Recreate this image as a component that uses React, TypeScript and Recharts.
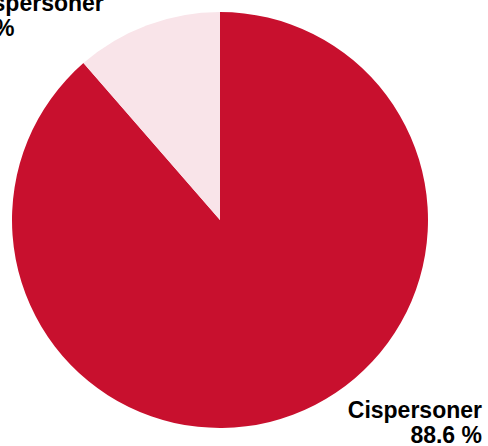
import React from 'react';
import { PieChart, Pie, Cell } from 'recharts';

const groups = ['Cispersoner', 'Transpersoner'];
const shares = [88.6, 11.4];
const colors = ['#C8102E', '#F9E4E9'];

const data = groups.map((name, i) => ({ name, value: shares[i] }));

const FONT = '"Liberation Sans", Arial, Helvetica, sans-serif';

function renderLabel(props: any) {
  const { cx, cy, midAngle, outerRadius, name, value } = props;
  const rad = (Math.PI / 180) * midAngle;
  const right = Math.cos(rad) > 0;
  const text = `${value.toFixed(1)} %`;
  if (right) {
    const x = cx + outerRadius + 54;
    const y = cy + outerRadius - 10;
    return (
      <text x={x} y={y} textAnchor="end" fontFamily={FONT} fontWeight="bold" fontSize={23} fill="#000">
        <tspan x={x} dy={0}>{name}</tspan>
        <tspan x={x} dy={25}>{text}</tspan>
      </text>
    );
  }
  const x = cx - outerRadius - 68;
  const y = cy - outerRadius - 1;
  return (
    <text x={x} y={y} textAnchor="start" fontFamily={FONT} fontWeight="bold" fontSize={23} fill="#000">
      <tspan x={x} dy={0}>{name}</tspan>
      <tspan x={x} dy={25}>{text}</tspan>
    </text>
  );
}

export default function App() {
  return (
    <div style={{ position: 'absolute', left: 0, top: 0, width: 488, height: 446, background: '#fff' }}>
      <PieChart width={488} height={446} margin={{ top: 0, right: 0, bottom: 0, left: 0 }}>
        <Pie
          data={data}
          dataKey="value"
          nameKey="name"
          cx={220}
          cy={220}
          outerRadius={208}
          startAngle={90}
          endAngle={-270}
          stroke="none"
          labelLine={false}
          label={renderLabel}
          isAnimationActive={false}
        >
          {data.map((d, i) => (
            <Cell key={d.name} fill={colors[i]} />
          ))}
        </Pie>
      </PieChart>
    </div>
  );
}
